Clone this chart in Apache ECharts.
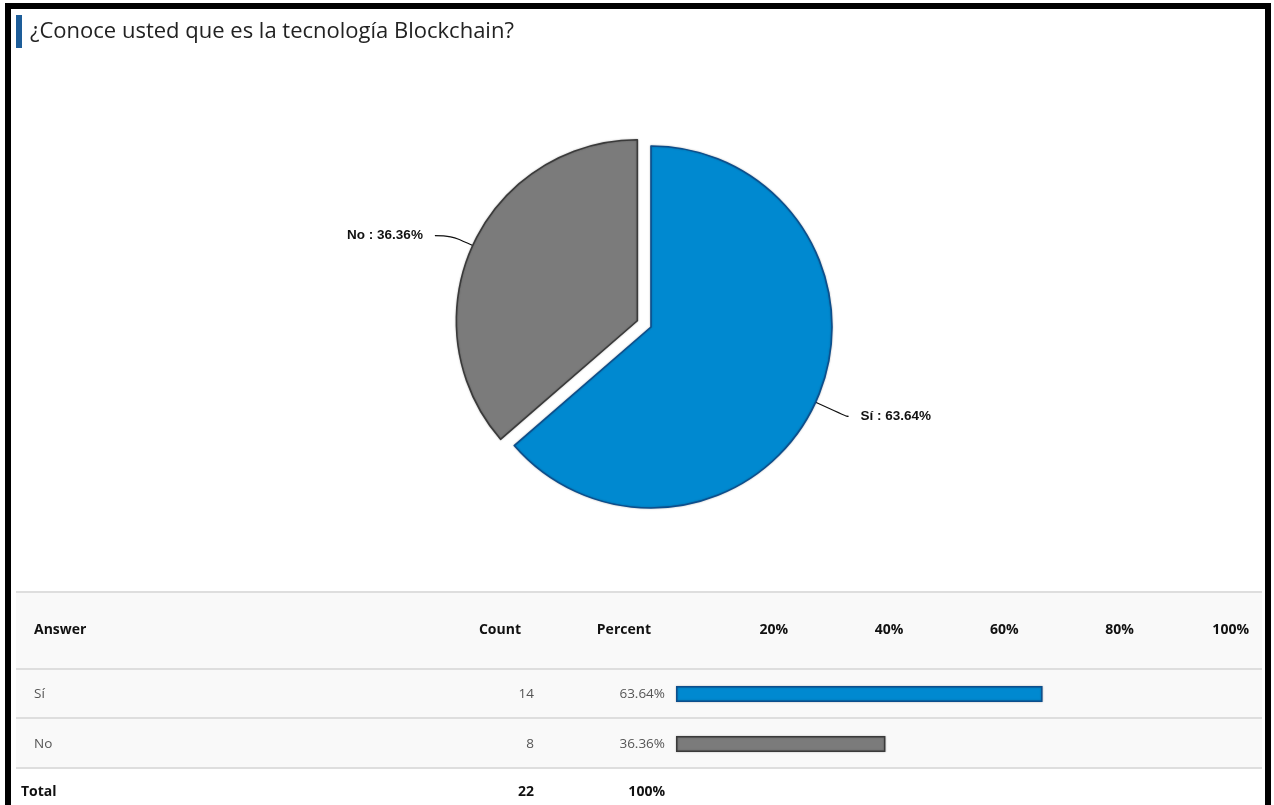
<!DOCTYPE html>
<html>
<head>
<meta charset="utf-8">
<script src="https://cdn.jsdelivr.net/npm/echarts@6/dist/echarts.min.js"></script>
<style>
  html, body { margin: 0; padding: 0; background: #ffffff; }
  #chart { width: 1274px; height: 805px; }
</style>
</head>
<body>
<div id="chart"></div>
<script>
// Survey question and answers
const questionTitle = '¿Conoce usted que es la tecnología Blockchain?';
const answers = ['Sí', 'No'];
const counts = [14, 8];
const answerColors = ['#0089d0', '#7b7b7b'];
const answerBorders = ['#0d4e8c', '#3a3a3a'];
const axisTicks = [0, 20, 40, 60, 80, 100];
const headerLabels = ['Answer', 'Count', 'Percent'];
const totalLabel = 'Total';

const total = counts.reduce((a, b) => a + b, 0);
const percents = counts.map(c => +(c / total * 100).toFixed(2));

const chart = echarts.init(document.getElementById('chart'), null, { renderer: 'canvas' });

const tableFont = '"Open Sans", "Noto Sans", sans-serif';

// Table backgrounds, rules and cell text
const graphics = [
  // outer frame
  { type: 'rect', shape: { x: 8, y: 6, width: 1260, height: 830 },
    style: { fill: null, stroke: '#000', lineWidth: 6 }, z: 10 },
  // title accent bar
  { type: 'rect', shape: { x: 16, y: 15, width: 6, height: 33 }, style: { fill: '#1d5d99' } },
  { type: 'text', x: 30, y: 32, style: { text: questionTitle, font: '22px "Open Sans", sans-serif',
      fill: '#222', verticalAlign: 'middle' } },
  // table background
  { type: 'rect', shape: { x: 16, y: 592, width: 1246, height: 176 }, style: { fill: '#f9f9f9' }, z: -1 }
];
[592, 669, 718, 768].forEach(y => {
  graphics.push({ type: 'rect', shape: { x: 16, y: y - 1, width: 1246, height: 2 }, style: { fill: '#dedede' } });
});
// header
graphics.push({ type: 'text', x: 34, y: 630, style: { text: headerLabels[0], font: 'bold 14px ' + tableFont, fill: '#111', verticalAlign: 'middle' } });
graphics.push({ type: 'text', x: 521, y: 630, style: { text: headerLabels[1], font: 'bold 14px ' + tableFont, fill: '#111', align: 'right', verticalAlign: 'middle' } });
graphics.push({ type: 'text', x: 651, y: 630, style: { text: headerLabels[2], font: 'bold 14px ' + tableFont, fill: '#111', align: 'right', verticalAlign: 'middle' } });
// answer rows
const rowCenters = [694, 744];
answers.forEach((a, i) => {
  const y = rowCenters[i];
  graphics.push({ type: 'text', x: 34, y: y, style: { text: a, font: '13.5px ' + tableFont, fill: '#555', verticalAlign: 'middle' } });
  graphics.push({ type: 'text', x: 534, y: y, style: { text: String(counts[i]), font: '13.5px ' + tableFont, fill: '#555', align: 'right', verticalAlign: 'middle' } });
  graphics.push({ type: 'text', x: 665, y: y, style: { text: percents[i].toFixed(2) + '%', font: '13.5px ' + tableFont, fill: '#555', align: 'right', verticalAlign: 'middle' } });
});
// total row
graphics.push({ type: 'text', x: 21, y: 792, style: { text: totalLabel, font: 'bold 14px ' + tableFont, fill: '#111', verticalAlign: 'middle' } });
graphics.push({ type: 'text', x: 534, y: 792, style: { text: String(total), font: 'bold 14px ' + tableFont, fill: '#111', align: 'right', verticalAlign: 'middle' } });
graphics.push({ type: 'text', x: 665, y: 792, style: { text: '100%', font: 'bold 14px ' + tableFont, fill: '#111', align: 'right', verticalAlign: 'middle' } });

const pieLabelLines = [{ length: 34, length2: 2 }, { length: 24, length2: 16 }];

const option = {
  animation: false,
  backgroundColor: '#ffffff',
  graphic: graphics,
  grid: { left: 676, right: 22, top: 669, bottom: 36 },
  xAxis: {
    type: 'value', position: 'top',
    min: axisTicks[0], max: axisTicks[axisTicks.length - 1], interval: axisTicks[1] - axisTicks[0],
    axisLine: { show: false }, axisTick: { show: false }, splitLine: { show: false },
    axisLabel: {
      showMinLabel: false, formatter: '{value}%', align: 'right', margin: 32,
      fontFamily: tableFont, fontWeight: 'bold', fontSize: 14, color: '#111',
      padding: [0, 3, 0, 0]
    }
  },
  yAxis: {
    type: 'category', data: answers, inverse: true,
    axisLine: { show: false }, axisTick: { show: false }, axisLabel: { show: false }
  },
  series: [
    {
      type: 'pie',
      center: [651, 327],
      radius: 181,
      startAngle: 90,
      clockwise: true,
      selectedMode: 'single',
      selectedOffset: 15,
      avoidLabelOverlap: false,
      label: {
        show: true, position: 'outside', formatter: '{b} : {d}%',
        fontFamily: '"Liberation Sans", Arial, sans-serif', fontWeight: 'bold', fontSize: 13.5,
        color: '#111', distanceToLabelLine: 12
      },
      labelLine: { show: true, smooth: 0.4, lineStyle: { color: '#111', width: 1.2 } },
      emphasis: { disabled: true },
      data: answers.map((a, i) => ({
        name: a, value: counts[i], selected: i === 1,
        labelLine: pieLabelLines[i],
        itemStyle: { color: answerColors[i], borderColor: answerBorders[i], borderWidth: 1.6,
          shadowColor: 'rgba(0,0,0,0.25)', shadowBlur: 2 }
      }))
    },
    {
      type: 'bar',
      barWidth: 16,
      emphasis: { disabled: true },
      data: answers.map((a, i) => ({
        value: percents[i],
        itemStyle: { color: answerColors[i], borderColor: answerBorders[i], borderWidth: 1.5,
          shadowColor: 'rgba(0,0,0,0.25)', shadowBlur: 2 }
      }))
    }
  ]
};

chart.setOption(option);
</script>
</body>
</html>
